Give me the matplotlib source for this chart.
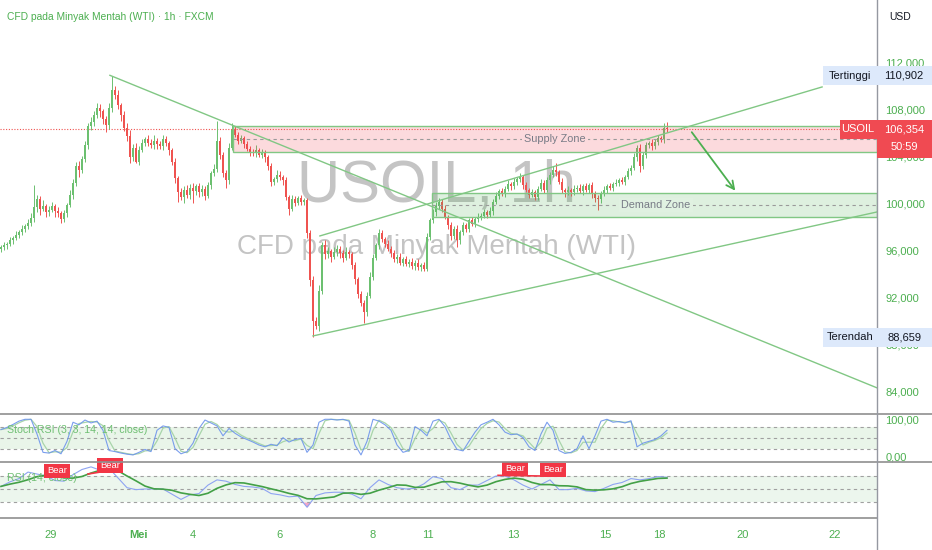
import numpy as np
import pandas as pd
import matplotlib
matplotlib.use("Agg")
import matplotlib.pyplot as plt
from matplotlib.patches import Rectangle
from matplotlib.lines import Line2D
from matplotlib.transforms import blended_transform_factory

plt.rcParams['font.family'] = ['Liberation Sans', 'DejaVu Sans']

# ---- price data (USOIL, ~1 candle per 3 px) ----
first_open = 96.2
closes = [
    96.3, 96.5, 96.6, 96.9, 97.1, 97.4, 97.6, 97.9, 98.1, 98.4, 98.8,
    99.7, 100.4, 99.6, 99.8, 99.3, 99.5, 99.8, 99.4, 99.2, 98.7,
    99.2, 99.9, 100.8, 101.8, 103.2, 102.9, 103.8, 105.0, 106.6,
    107.0, 107.6, 108.2, 107.9, 107.2, 106.7, 108.2, 109.7,
    109.3, 108.4, 107.6, 106.5, 105.8, 104.0, 104.8, 103.6, 104.6,
    105.2, 105.5, 105.2, 105.0, 105.4, 105.1, 104.9, 105.5, 105.2, 104.6,
    103.6, 102.2, 101.0, 100.6, 101.2, 100.8, 101.4, 101.1, 101.5, 101.0, 101.3, 100.7,
    101.6, 102.6, 103.0, 105.4, 104.2, 102.6, 102.0, 104.8, 106.3,
    105.9, 105.4, 105.6, 105.1, 104.7, 104.4, 104.3, 104.6, 104.2, 104.4, 104.0,
    103.2, 101.9, 102.1, 102.5, 102.3, 102.0, 100.6, 99.6, 100.4, 100.1, 100.5, 100.2, 100.3,
    97.5, 93.5, 90.0, 89.6, 92.6,
    96.5, 95.7, 96.0, 95.5, 95.9, 96.2, 95.8, 95.4, 95.9, 95.7,
    94.8, 93.6, 92.3, 91.6, 90.8, 92.2, 93.8, 95.4, 96.5, 97.5,
    97.0, 96.6, 96.2, 95.8, 95.3, 95.5, 95.0, 95.3, 94.9, 95.1, 94.7, 95.0, 94.6, 94.8, 94.5,
    97.2, 98.6, 99.3, 99.8, 100.2, 99.6, 98.9, 98.2, 97.3, 97.9, 96.9, 97.6, 98.2, 97.9,
    98.6, 98.3, 98.7, 98.9, 99.0, 99.3, 99.1, 99.4, 100.2, 100.7, 101.1, 100.9, 101.3,
    101.7, 101.5, 101.9, 102.1, 102.3, 101.6, 101.2, 100.8, 101.0, 100.6,
    101.3, 101.8, 101.2, 102.0, 102.5, 102.9, 102.7, 101.9, 101.2, 101.0,
    101.2, 101.0, 101.3, 101.4, 101.1, 101.5, 101.2, 101.6, 100.9, 100.5, 100.4,
    100.9, 101.2, 101.5, 101.4, 101.7, 101.8, 102.0, 101.9, 102.3, 102.8, 103.1,
    104.0, 104.8, 103.2, 104.2, 105.0, 105.2, 104.9, 105.3, 105.6, 105.5, 106.5, 106.354,
]
wick_hi = [
    0.2, 0.3, 0.2, 0.3, 0.2, 0.3, 0.2, 0.3, 0.2, 0.3, 0.4,
    1.9, 0.4, 0.3, 0.5, 0.2, 0.3, 0.4, 0.2, 0.3, 0.2,
    0.3, 0.2, 0.4, 0.3, 0.4, 0.5, 0.3, 0.4, 0.3,
    0.4, 0.3, 0.4, 0.3, 0.2, 0.3, 0.4, 1.2,
    0.3, 0.4, 0.2, 0.3, 0.4, 0.5, 0.3, 0.4, 0.3,
    0.3, 0.2, 0.4, 0.3, 0.5, 0.2, 0.3, 0.4, 0.3, 0.2,
    0.2, 0.3, 0.2, 0.4, 0.3, 0.4, 0.3, 0.4, 0.2, 0.3, 0.3, 0.2,
    0.3, 0.2, 0.4, 1.7, 0.3, 0.2, 0.3, 0.4, 0.6,
    0.3, 0.2, 0.3, 0.2, 0.3, 0.2, 0.3, 0.4, 0.2, 0.3, 0.2,
    0.2, 0.3, 0.2, 0.4, 0.3, 0.2, 0.3, 0.2, 0.4, 0.3, 0.2, 0.3, 0.2,
    0.2, 0.3, 0.4, 0.4, 0.5,
    0.3, 0.4, 0.3, 0.2, 0.4, 0.3, 0.2, 0.3, 0.4, 0.2,
    0.2, 0.3, 0.2, 0.3, 0.2, 0.3, 0.4, 0.3, 0.2, 0.4,
    0.3, 0.2, 0.3, 0.2, 0.3, 0.2, 0.3, 0.2, 0.3, 0.2, 0.3, 0.2, 0.3, 0.2, 0.3,
    0.3, 0.2, 0.3, 0.4, 0.3, 0.2, 0.3, 0.2, 0.3, 0.2, 0.3, 0.2, 0.3, 0.2,
    0.2, 0.3, 0.2, 0.3, 0.2, 0.3, 0.2, 0.3, 0.2, 0.3, 0.2, 0.3, 0.2,
    0.3, 0.2, 0.3, 0.2, 0.3, 0.2, 0.3, 0.2, 0.3, 0.2,
    0.2, 0.3, 0.2, 0.3, 0.2, 0.3, 0.6, 0.2, 0.3, 0.2,
    0.3, 0.2, 0.3, 0.2, 0.3, 0.2, 0.3, 0.2, 0.3, 0.2, 0.3,
    0.2, 0.3, 0.2, 0.3, 0.2, 0.3, 0.2, 0.3, 0.2, 0.3, 0.2,
    0.3, 0.2, 0.3, 0.2, 0.3, 0.2, 0.3, 0.2, 0.3, 0.2, 0.4, 0.5,
]
wick_lo = [
    0.3, 0.2, 0.3, 0.2, 0.3, 0.2, 0.3, 0.2, 0.3, 0.2, 0.3,
    0.3, 0.4, 0.5, 0.2, 0.4, 0.3, 0.2, 0.5, 0.3, 0.3,
    0.2, 0.3, 0.2, 0.4, 0.3, 0.6, 0.3, 0.2, 0.3,
    0.3, 0.4, 0.3, 0.5, 0.4, 0.6, 0.3, 0.4,
    0.4, 0.3, 0.5, 0.3, 0.4, 0.5, 0.3, 0.1, 0.3,
    0.2, 0.3, 0.3, 0.2, 0.3, 0.4, 0.2, 0.3, 0.3, 0.4,
    0.3, 0.4, 0.8, 0.3, 0.5, 0.3, 0.4, 1.0, 0.3, 0.4, 0.3, 0.4,
    0.2, 0.3, 0.2, 0.3, 0.4, 0.3, 0.6, 0.3, 0.2,
    0.2, 0.3, 0.2, 0.3, 0.2, 0.3, 0.2, 0.3, 0.2, 0.3, 0.4,
    0.3, 0.4, 0.3, 0.2, 0.3, 0.4, 0.3, 0.5, 0.2, 0.3, 0.2, 0.3, 0.3,
    0.4, 0.5, 1.34, 0.2, 0.4,
    0.3, 0.4, 0.3, 0.4, 0.2, 0.3, 0.4, 0.3, 0.2, 0.3,
    0.3, 0.4, 0.3, 0.3, 0.9, 0.3, 0.2, 0.3, 0.2, 0.3,
    0.2, 0.3, 0.2, 0.3, 0.2, 0.3, 0.2, 0.3, 0.2, 0.3, 0.2, 0.3, 0.2, 0.3, 0.2,
    0.2, 0.3, 0.2, 0.3, 0.2, 0.3, 0.2, 0.3, 0.4, 0.3, 0.6, 0.3, 0.2, 0.3,
    0.3, 0.2, 0.3, 0.2, 0.3, 0.2, 0.3, 0.2, 0.3, 0.2, 0.3, 0.2, 0.3,
    0.2, 0.3, 0.2, 0.3, 0.2, 0.3, 0.2, 0.3, 0.2, 0.3,
    0.3, 0.2, 0.3, 0.2, 0.3, 0.2, 0.3, 0.2, 0.3, 0.4,
    0.2, 0.3, 0.2, 0.3, 0.2, 0.3, 0.2, 0.3, 0.4, 0.3, 0.9,
    0.3, 0.2, 0.3, 0.2, 0.3, 0.2, 0.3, 0.2, 0.3, 0.2, 0.3,
    0.2, 0.3, 0.5, 0.2, 0.3, 0.2, 0.3, 0.2, 0.3, 0.2, 0.3, 0.2,
]

# Stoch RSI %K, one value every 2 candles
stoch_k = [
    72, 78, 86, 95, 100, 100, 60, 10, 8, 15, 6, 40,
    92, 85, 98, 90, 95, 70, 15, 12, 8, 5, 3, 10,
    18, 12, 70, 82, 78, 20, 6, 12, 35, 75, 98, 90,
    82, 55, 75, 62, 52, 45, 38, 30, 25, 32, 28, 50,
    38, 45, 48, 10, 30, 92, 100, 100, 98, 100, 95, 30,
    3, 40, 100, 95, 85, 70, 30, 10, 15, 80, 70, 55,
    95, 100, 80, 45, 18, 14, 40, 65, 85, 92, 100, 85,
    65, 58, 60, 50, 25, 15, 60, 92, 70, 15, 7, 10,
    20, 55, 20, 55, 95, 100, 92, 94, 90, 96, 25, 35,
    40, 45, 55, 70,
]
# RSI(14), one value every 3 candles
rsi = [
    54, 61, 66, 76, 73, 70, 63, 62, 72, 80, 84, 79, 82, 67, 52,
    49, 50, 50, 50, 42, 34, 41, 43, 56, 64, 62, 57, 54, 53, 51,
    43, 41, 38, 39, 22, 40, 44, 45, 45, 42, 35, 52, 64, 57, 52,
    50, 51, 58, 69, 66, 52, 49, 56, 56, 63, 70, 70, 64, 56, 50,
    57, 64, 49, 49, 51, 47, 46, 51, 57, 60, 66, 64, 66, 69, 68,
]

# x axis (candle index) and labels
tick_bars = [16.7, 45.7, 64, 92.7, 124, 142.3, 170.7, 201.3, 219.3, 247.3, 278]
tick_labels = ['29', 'Mei', '4', '6', '8', '11', '13', '15', '18', '20', '22']
price_ticks = [84, 88, 92, 96, 100, 104, 108, 112]

high_price = 110.902
low_price = 88.659
last_price = 106.354
countdown = '50:59'

# drawings: (candle index, price)
supply_zone = (77.3, 104.43, 106.64)
demand_zone = (143.7, 98.89, 100.94)
trend_down = [(36.3, 110.95), (292, 84.35)]
channel_top = [(106.3, 97.28), (273.7, 109.96)]
channel_bottom = [(104, 88.77), (292, 99.32)]
arrow_path = [(229.7, 106.3), (245.3, 100.94)]
bear_bars = [18.7, 36.3, 171.3, 184]
bear_rsi = [77.7, 86.5, 80.8, 79.2]

# ---- figure ----
W, H = 932, 550
fig = plt.figure(figsize=(W / 100, H / 100), dpi=100)
fig.patch.set_facecolor('white')
axw = 877 / W
ax = fig.add_axes([0, 1 - 413 / H, axw, 413 / H])
ax_st = fig.add_axes([0, 1 - 462 / H, axw, 48 / H])
ax_rsi = fig.add_axes([0, 1 - 518 / H, axw, 56 / H])

xlim = (-1 / 3, 292)
for a in (ax, ax_st, ax_rsi):
    a.set_xlim(*xlim)
    for s in a.spines.values():
        s.set_visible(False)
    a.set_xticks([])
    a.set_facecolor('none')

GREEN_TXT = '#4caf50'
UP, DOWN = '#6cc070', '#ef5350'
LINE_G = '#81c784'

# candles
n = min(len(closes), len(wick_hi), len(wick_lo))
c = np.array(closes[:n])
o = np.r_[first_open, c[:-1]]
hi = np.maximum(o, c) + np.array(wick_hi[:n])
lo = np.minimum(o, c) - np.array(wick_lo[:n])
bars = np.arange(n)
col = np.where(c >= o, UP, DOWN)
ax.vlines(bars, lo, hi, colors=col, lw=0.7, zorder=3)
ax.bar(bars, np.maximum(np.abs(c - o), 0.06), bottom=np.minimum(o, c),
       width=0.62, color=col, lw=0, zorder=3)

ax.set_ylim(82.21, 117.36)
ax.yaxis.tick_right()
ax.set_yticks(price_ticks)
ax.set_yticklabels([f"{p:.3f}".replace('.', ',') for p in price_ticks])
ax.tick_params(axis='y', length=0, pad=6, labelcolor=GREEN_TXT, labelsize=8)
ppu = 413 / (117.36 - 82.21)  # pixels per price unit

# watermark
ax.text(0.498, 0.55, 'USOIL, 1h', transform=ax.transAxes, ha='center', va='center',
        fontsize=43, color='#c4c4c4', zorder=1)
ax.text(0.498, 0.402, 'CFD pada Minyak Mentah (WTI)', transform=ax.transAxes,
        ha='center', va='center', fontsize=20, color='#c4c4c4', zorder=1)

# current price line
ax.axhline(last_price, color=DOWN, ls=(0, (1, 1.5)), lw=0.8, zorder=2)

# zones
for (start, zlo, zhi), fc, lab, lab_x, lab_bg in [
        (supply_zone, '#f23645', 'Supply Zone', 184.7, '#fcdadd'),
        (demand_zone, '#4caf50', 'Demand Zone', 218.3, '#e0f1e1')]:
    ax.add_patch(Rectangle((start, zlo), xlim[1] - start, zhi - zlo,
                           fc=fc, alpha=0.18, ec='none', zorder=4))
    ax.add_patch(Rectangle((start, zlo), xlim[1] - start, zhi - zlo,
                           fill=False, ec=LINE_G, lw=1, zorder=4))
    mid = (zlo + zhi) / 2
    ax.hlines(mid, start, xlim[1], colors='#9a9a9a', linestyles=(0, (3, 3)), lw=0.8, zorder=4)
    ax.text(lab_x, mid, lab, ha='center', va='center', fontsize=7.8, color='#787b86',
            zorder=5, bbox=dict(fc=lab_bg, ec='none', pad=1.5))

# trend / channel lines
for line in (trend_down, channel_top, channel_bottom):
    xs, ys = zip(*line)
    ax.plot(xs, ys, color=LINE_G, lw=1, zorder=5)
ax.annotate('', xy=arrow_path[1], xytext=arrow_path[0],
            arrowprops=dict(arrowstyle='->', color='#4caf50', lw=1.3, mutation_scale=14),
            zorder=6)

# title and currency
ax.text(7 / 877, 1 - 17 / 413, 'CFD pada Minyak Mentah (WTI) · 1h · FXCM',
        transform=ax.transAxes, va='center', ha='left', fontsize=7.4, color=GREEN_TXT)
fig.text(889 / W, 1 - 17 / H, 'USD', fontsize=7.5, color='#131722', va='center')

# price tags on right axis
bt = blended_transform_factory(fig.transFigure, ax.transData)


def tag(price, x0, x1, h_px, fc):
    h = h_px / ppu
    top = price + 19 / ppu / 2
    fig.add_artist(Rectangle((x0 / W, top - h), (x1 - x0) / W, h, transform=bt,
                             fc=fc, ec='none', zorder=5))


for price, label in [(high_price, 'Tertinggi'), (low_price, 'Terendah')]:
    tag(price, 823, 932, 19, '#dde9fb')
    fig.text(850 / W, price, label, transform=bt, ha='center', va='center',
             fontsize=8, color='#131722', zorder=6)
    fig.text(904 / W, price, f"{price:.3f}".replace('.', ','), transform=bt,
             ha='center', va='center', fontsize=8, color='#131722', zorder=6)

tag(last_price, 840, 877, 19, '#f04a52')
tag(last_price, 877, 932, 38, '#f04a52')
fig.text(858 / W, last_price, 'USOIL', transform=bt, ha='center', va='center',
         fontsize=8, color='white', zorder=6)
fig.text(904 / W, last_price, f"{last_price:.3f}".replace('.', ','), transform=bt,
         ha='center', va='center', fontsize=8, color='white', zorder=6)
fig.text(904 / W, last_price - 18 / ppu, countdown, transform=bt,
         ha='center', va='center', fontsize=8, color='white', zorder=6)

# ---- Stoch RSI pane ----
k = pd.Series(stoch_k, dtype=float)
d = k.rolling(2, min_periods=1).mean()
xs_st = np.arange(len(k)) * 2
ax_st.set_ylim(-16.3, 114.4)
ax_st.axhspan(20, 80, color='#4caf50', alpha=0.12, lw=0)
for lvl in (80, 50, 20):
    ax_st.axhline(lvl, color='#a0a0a0', ls=(0, (3, 3)), lw=0.8)
ax_st.plot(xs_st, d, color='#a8d5aa', lw=0.9)
ax_st.plot(xs_st, k, color='#6d94ec', lw=0.8, alpha=0.9)
ax_st.yaxis.tick_right()
ax_st.set_yticks([0, 100])
ax_st.set_yticklabels(['0,00', '100,00'])
ax_st.tick_params(axis='y', length=0, pad=6, labelcolor=GREEN_TXT, labelsize=8)
ax_st.text(7 / 877, 0.667, 'Stoch RSI (3, 3, 14, 14, close)', transform=ax_st.transAxes,
           va='center', ha='left', fontsize=7.6, color='#6fbf73')

# ---- RSI pane ----
r = pd.Series(rsi, dtype=float)
r_ma = r.rolling(4, min_periods=1).mean()
xs_r = np.arange(len(r)) * 3
ax_rsi.set_ylim(5.4, 91.5)
ax_rsi.axhspan(30, 70, color='#4caf50', alpha=0.10, lw=0)
for lvl in (70, 50, 30):
    ax_rsi.axhline(lvl, color='#a0a0a0', ls=(0, (3, 3)), lw=0.8)
ax_rsi.fill_between(xs_r, r, 30, where=r < 30, interpolate=True, color='#f3a6c6', lw=0)
ax_rsi.plot(xs_r, r, color='#8ea3f2', lw=0.8)
ax_rsi.plot(xs_r, r_ma, color='#43a047', lw=1.2)
ax_rsi.set_yticks([])
ax_rsi.text(7 / 877, 0.714, 'RSI (14, close)', transform=ax_rsi.transAxes,
            va='center', ha='left', fontsize=7.6, color='#6fbf73')
ax_rsi.plot([29, 33], [73, 76], color='#f23645', lw=1.2)
ax_rsi.plot([165.7, 179.7], [71, 70], color='#f23645', lw=1.2)
for bx, bv in zip(bear_bars, bear_rsi):
    ax_rsi.text(bx, bv, 'Bear', ha='center', va='center', fontsize=6.8, color='white',
                zorder=6, bbox=dict(boxstyle='square,pad=0.3', fc='#f23645', ec='none'))

ax_rsi.set_xticks(tick_bars)
ax_rsi.set_xticklabels(tick_labels)
ax_rsi.tick_params(axis='x', length=0, pad=9, labelcolor=GREEN_TXT, labelsize=8)
for t in ax_rsi.get_xticklabels():
    if t.get_text() == 'Mei':
        t.set_fontweight('bold')

# pane separators and price-scale border
for y in (413.5, 462, 518):
    fig.add_artist(Line2D([0, 1 if y < 500 else axw], [1 - y / H] * 2,
                          transform=fig.transFigure, color='#8f8f8f', lw=1.2))
fig.add_artist(Line2D([axw, axw], [0, 1], transform=fig.transFigure, color='#9598a1', lw=1))

fig.savefig('out.png', dpi=100)
